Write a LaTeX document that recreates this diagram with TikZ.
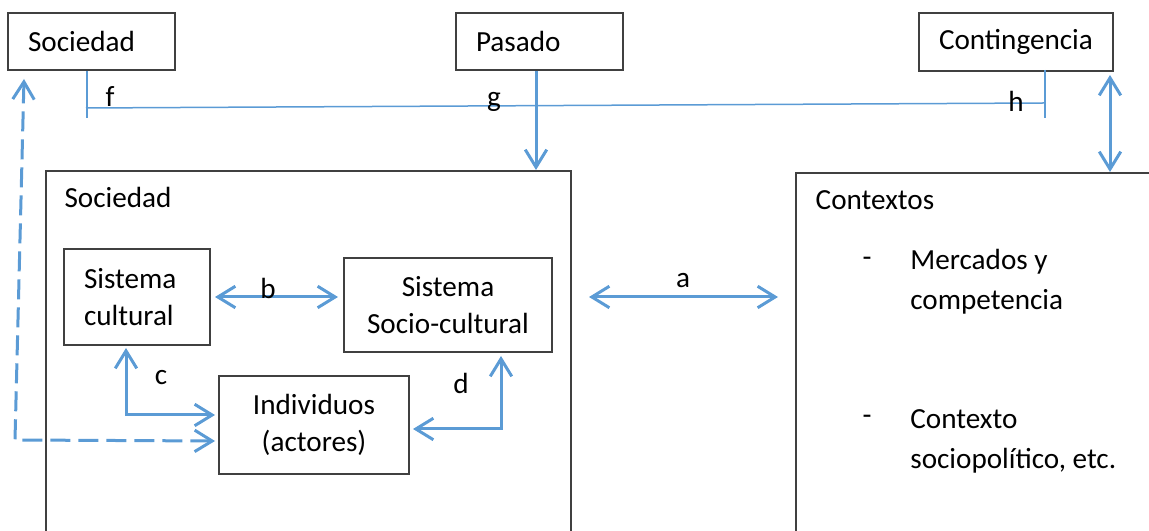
\documentclass[tikz,border=0pt]{standalone}
\usepackage{fontspec}
\setmainfont{Carlito}
\usetikzlibrary{arrows.meta}
\definecolor{linkblue}{RGB}{91,155,213}
\definecolor{boxgray}{RGB}{64,64,64}

\begin{document}
\begin{tikzpicture}[x=0.2mm,y=-0.2mm,
    font=\fontsize{16.6}{21.5}\selectfont,
    box/.style={draw=boxgray,line width=0.4mm,anchor=north west},
    lbl/.style={inner sep=0pt},
    link/.style={draw=linkblue,line width=0.6mm,
      >={Straight Barb[length=3.5mm,width=4.3mm]}},
    thinlink/.style={draw=linkblue,line width=0.3mm}]
  \useasboundingbox (0,0) rectangle (1149,531);
  \clip (0,0) rectangle (1149,531);
  % top row
  \node[box,align=left,inner xsep=4mm,text width=25.4mm,minimum height=11.4mm] (socA) at (7,12) {Sociedad};
  \node[box,align=left,inner xsep=4mm,text width=25.4mm,minimum height=11.4mm] (pasA) at (455,12) {Pasado};
  \node[box,align=left,inner xsep=4mm,text width=30.8mm,minimum height=11.6mm] (contA) at (918,12) {Contingencia};
  % big frames
  \node[box,minimum width=105mm,minimum height=80mm] (socframe) at (45,170) {};
  \node[box,minimum width=80mm,minimum height=80mm] (ctxframe) at (795,172) {};
  \node[lbl] (soclbl) at (118,197) {Sociedad};
  \node[lbl] (ctxlbl) at (875,200) {Contextos};
  % inside Sociedad
  \node[box,align=left,inner xsep=4mm,text width=21.2mm,minimum height=19.2mm] (scult) at (63,248) {Sistema\\cultural};
  \node[box,align=center,minimum width=41.6mm,minimum height=18.8mm] (ssc) at (343,257) {Sistema\\Socio-cultural};
  \node[box,align=center,minimum width=38mm,minimum height=19.6mm] (indiv) at (218,375) {Individuos\\(actores)};
  % inside Contextos
  \node[lbl] (dash1) at (867,262) {-};
  \node[lbl,anchor=west,align=left,font=\fontsize{16.6}{22.7}\selectfont] (merc) at (910,282) {Mercados y\\competencia};
  \node[lbl] (dash2) at (867,420) {-};
  \node[lbl,anchor=west,align=left,font=\fontsize{16.6}{22.7}\selectfont] (spol) at (910,441) {Contexto\\sociopolítico, etc.};
  % f g h line
  \coordinate (fend) at (86,108);
  \coordinate (hend) at (1044,103);
  \draw[thinlink] ([xshift=-0.9mm]socA.south) -- ++(0,47);
  \draw[thinlink] (fend) -- (hend);
  \draw[thinlink] ([xshift=5.8mm,yshift=0.4mm]contA.south) -- ++(0,48);
  \node[lbl] (flbl) at (110,97) {f};
  \node[lbl] (glbl) at (494,102) {g};
  \node[lbl] (hlbl) at (1016,101) {h};
  % arrows
  \draw[link,->] ([xshift=-0.7mm]pasA.south) -- ([xshift=-0.7mm]pasA.south |- socframe.north);
  \draw[link,<->] ([xshift=-0.8mm,yshift=-0.6mm]contA.south east) -- ([xshift=-0.8mm]contA.south east |- ctxframe.north);
  \draw[link,<->] ([xshift=3.4mm]socframe.east |- scult.east) -- ([xshift=-3.4mm]ctxframe.west |- scult.east);
  \draw[link,<->] ([xshift=0.8mm]scult.east) -- ([xshift=-1mm]scult.east -| ssc.west);
  \draw[link,<->] ([xshift=-2.2mm,yshift=-0.4mm]scult.south) |- ([xshift=-0.6mm,yshift=2mm]indiv.west);
  \draw[link,<->] ([xshift=10.6mm,yshift=-0.6mm]ssc.south) |- ([xshift=0.6mm,yshift=-0.8mm]indiv.east);
  \coordinate (dashc) at (15,440);
  \draw[link,<->,dash pattern=on 4mm off 1.6mm] ([xshift=-13.5mm,yshift=-1.6mm]socA.south) -- (dashc) -- ([xshift=-0.6mm,yshift=-3.2mm]indiv.west);
  \node[lbl] (albl) at (683,281) {a};
  \node[lbl] (blbl) at (268,288) {b};
  \node[lbl] (clbl) at (161,378) {c};
  \node[lbl] (dlbl) at (461,383) {d};
\end{tikzpicture}
\end{document}
